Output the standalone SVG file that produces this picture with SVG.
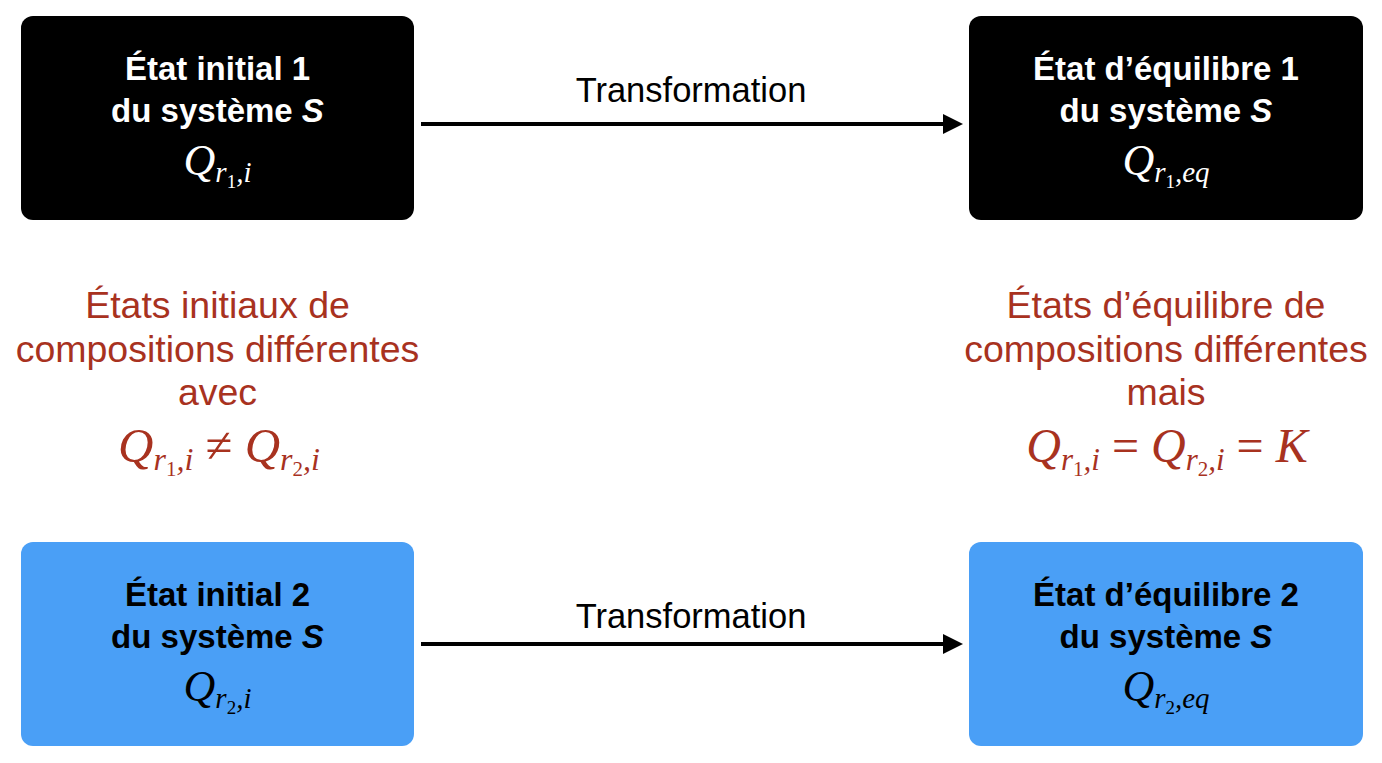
<svg xmlns="http://www.w3.org/2000/svg" width="1382" height="763" viewBox="0 0 1382 763">
<style>
.box-dark{fill:#000000;}
.box-blue{fill:#4a9ff6;}
.lbl{font-family:"Liberation Sans",Arial,Helvetica,sans-serif;font-weight:bold;font-size:33px;text-anchor:middle;}
.white{fill:#ffffff;}
.black{fill:#000000;}
.math{font-family:"Liberation Serif","Times New Roman",serif;font-style:italic;text-anchor:middle;}
.up{font-style:normal;}
.red{fill:#a8321f;}
.note{font-family:"Liberation Sans",Arial,Helvetica,sans-serif;font-size:37.5px;text-anchor:middle;}
.edge-label{font-family:"Liberation Sans",Arial,Helvetica,sans-serif;font-size:34.5px;text-anchor:middle;fill:#000000;}
.edge{stroke:#000000;stroke-width:4;fill:none;}
</style>
<defs>
<marker id="arrow" markerUnits="userSpaceOnUse" markerWidth="20" markerHeight="20" refX="10" refY="10" orient="auto">
<path d="M0,0 L20,10 L0,20 Z" fill="#000000"/>
</marker>
</defs>
<rect x="0" y="0" width="1382" height="763" fill="#ffffff"/>

<g id="connectors">
<line class="edge" x1="421" y1="124" x2="953" y2="124" marker-end="url(#arrow)"/>
<text class="edge-label" x="691" y="102">Transformation</text>
<line class="edge" x1="421" y1="644" x2="953" y2="644" marker-end="url(#arrow)"/>
<text class="edge-label" x="691" y="628">Transformation</text>
</g>

<g id="etat-initial-1">
<rect class="box-dark" x="21" y="16" width="393" height="204" rx="12"/>
<text class="lbl white" x="217.5" y="80">État initial 1</text>
<text class="lbl white" x="217.5" y="122">du système <tspan font-style="italic">S</tspan></text>
<text class="math white" x="217.5" y="175" font-size="44">Q<tspan font-size="29" dy="7">r</tspan><tspan class="up" font-size="19" dy="6">1</tspan><tspan font-size="29" dy="-6">,i</tspan></text>
</g>

<g id="etat-equilibre-1">
<rect class="box-dark" x="969" y="16" width="394" height="204" rx="12"/>
<text class="lbl white" x="1166" y="80">État d’équilibre 1</text>
<text class="lbl white" x="1166" y="122">du système <tspan font-style="italic">S</tspan></text>
<text class="math white" x="1166" y="175" font-size="44">Q<tspan font-size="29" dy="7">r</tspan><tspan class="up" font-size="19" dy="6">1</tspan><tspan font-size="29" dy="-6">,eq</tspan></text>
</g>

<g id="etat-initial-2">
<rect class="box-blue" x="21" y="542" width="393" height="204" rx="12"/>
<text class="lbl black" x="217.5" y="606">État initial 2</text>
<text class="lbl black" x="217.5" y="648">du système <tspan font-style="italic">S</tspan></text>
<text class="math black" x="217.5" y="701" font-size="44">Q<tspan font-size="29" dy="7">r</tspan><tspan class="up" font-size="19" dy="6">2</tspan><tspan font-size="29" dy="-6">,i</tspan></text>
</g>

<g id="etat-equilibre-2">
<rect class="box-blue" x="969" y="542" width="394" height="204" rx="12"/>
<text class="lbl black" x="1166" y="606">État d’équilibre 2</text>
<text class="lbl black" x="1166" y="648">du système <tspan font-style="italic">S</tspan></text>
<text class="math black" x="1166" y="701" font-size="44">Q<tspan font-size="29" dy="7">r</tspan><tspan class="up" font-size="19" dy="6">2</tspan><tspan font-size="29" dy="-6">,eq</tspan></text>
</g>

<g id="note-initiaux">
<text class="note red" x="217.5" y="318">États initiaux de</text>
<text class="note red" x="217.5" y="362">compositions différentes</text>
<text class="note red" x="217.5" y="405">avec</text>
<text class="math red" x="219" y="462" font-size="49">Q<tspan font-size="32" dy="8">r</tspan><tspan class="up" font-size="21" dy="6">1</tspan><tspan font-size="32" dy="-6">,i</tspan><tspan class="up" font-size="49" dy="-8"> ≠ </tspan>Q<tspan font-size="32" dy="8">r</tspan><tspan class="up" font-size="21" dy="6">2</tspan><tspan font-size="32" dy="-6">,i</tspan></text>
</g>

<g id="note-equilibre">
<text class="note red" x="1166" y="318">États d’équilibre de</text>
<text class="note red" x="1166" y="362">compositions différentes</text>
<text class="note red" x="1166" y="405">mais</text>
<text class="math red" x="1167" y="462" font-size="48">Q<tspan font-size="31" dy="8">r</tspan><tspan class="up" font-size="21" dy="6">1</tspan><tspan font-size="31" dy="-6">,i</tspan><tspan class="up" font-size="48" dy="-8"> = </tspan>Q<tspan font-size="31" dy="8">r</tspan><tspan class="up" font-size="21" dy="6">2</tspan><tspan font-size="31" dy="-6">,i</tspan><tspan class="up" font-size="48" dy="-8"> = </tspan>K</text>
</g>
</svg>
